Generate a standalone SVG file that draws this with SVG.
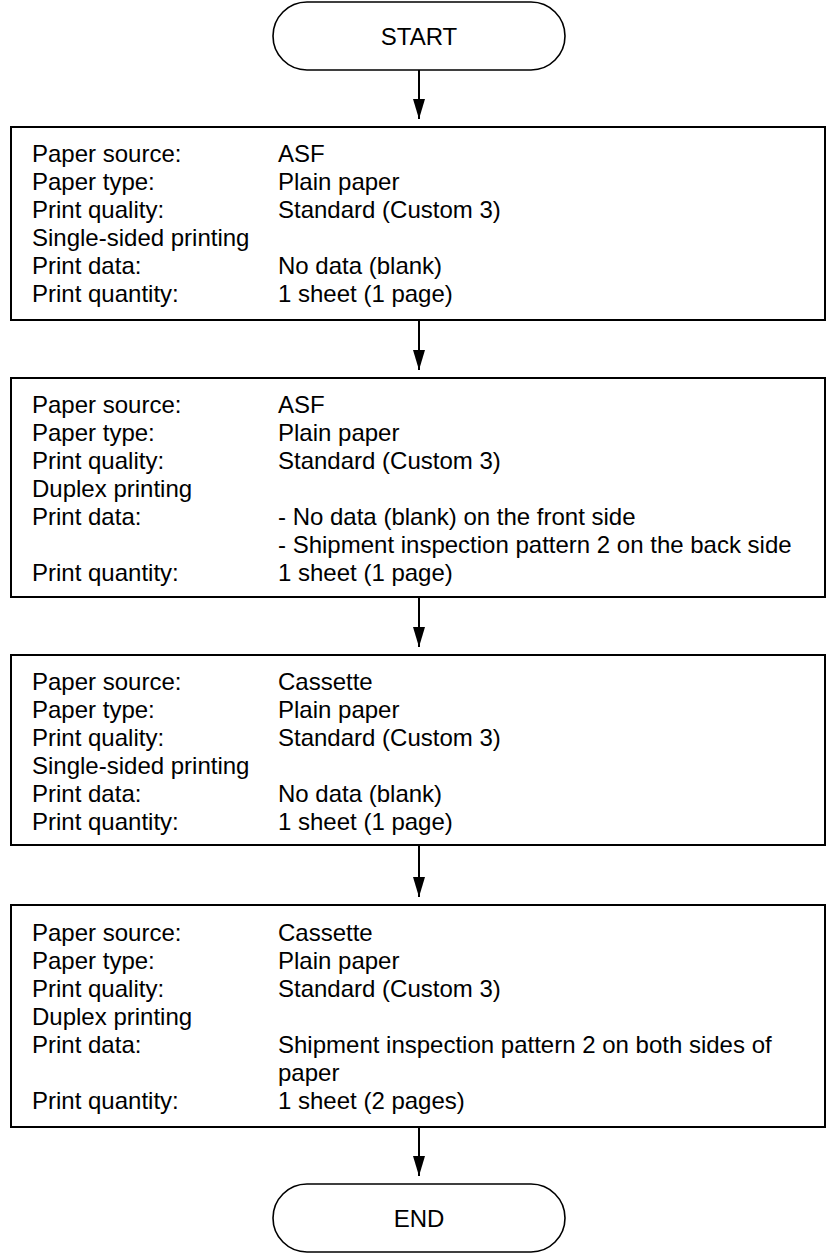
<svg xmlns="http://www.w3.org/2000/svg" width="827" height="1258" viewBox="0 0 827 1258">
<style>
  text { font-family: "Liberation Sans", Arial, sans-serif; font-size: 24px; fill: #000; }
  .box { fill: #fff; stroke: #000; stroke-width: 2; }
  .term { fill: #fff; stroke: #000; stroke-width: 1.6; }
  .conn { stroke: #000; stroke-width: 2; fill: none; }
  .mid { text-anchor: middle; }
</style>
<defs>
  <marker id="arr" viewBox="0 0 20 12" refX="20" refY="6" markerWidth="20" markerHeight="12" markerUnits="userSpaceOnUse" orient="auto">
    <path d="M0,0 L20,6 L0,12 Z" fill="#000"/>
  </marker>
</defs>
<g id="connectors">
  <line class="conn" x1="419" y1="70" x2="419" y2="119" marker-end="url(#arr)"/>
  <line class="conn" x1="419" y1="320" x2="419" y2="370" marker-end="url(#arr)"/>
  <line class="conn" x1="419" y1="597" x2="419" y2="647" marker-end="url(#arr)"/>
  <line class="conn" x1="419" y1="845" x2="419" y2="897" marker-end="url(#arr)"/>
  <line class="conn" x1="419" y1="1127" x2="419" y2="1176" marker-end="url(#arr)"/>
</g>
<g id="start">
  <rect class="term" x="273" y="2" width="292" height="68" rx="34" ry="34"/>
  <text class="mid" x="419" y="45">START</text>
</g>
<g id="step1">
  <rect class="box" x="11" y="127" width="814" height="193"/>
  <text x="32" y="162">Paper source:</text><text x="278" y="162">ASF</text>
  <text x="32" y="190">Paper type:</text><text x="278" y="190">Plain paper</text>
  <text x="32" y="218">Print quality:</text><text x="278" y="218">Standard (Custom 3)</text>
  <text x="32" y="246">Single-sided printing</text>
  <text x="32" y="274">Print data:</text><text x="278" y="274">No data (blank)</text>
  <text x="32" y="302">Print quantity:</text><text x="278" y="302">1 sheet (1 page)</text>
</g>
<g id="step2">
  <rect class="box" x="11" y="378" width="814" height="219"/>
  <text x="32" y="413">Paper source:</text><text x="278" y="413">ASF</text>
  <text x="32" y="441">Paper type:</text><text x="278" y="441">Plain paper</text>
  <text x="32" y="469">Print quality:</text><text x="278" y="469">Standard (Custom 3)</text>
  <text x="32" y="497">Duplex printing</text>
  <text x="32" y="525">Print data:</text><text x="278" y="525">- No data (blank) on the front side</text>
  <text x="278" y="553">- Shipment inspection pattern 2 on the back side</text>
  <text x="32" y="581">Print quantity:</text><text x="278" y="581">1 sheet (1 page)</text>
</g>
<g id="step3">
  <rect class="box" x="11" y="655" width="814" height="190"/>
  <text x="32" y="690">Paper source:</text><text x="278" y="690">Cassette</text>
  <text x="32" y="718">Paper type:</text><text x="278" y="718">Plain paper</text>
  <text x="32" y="746">Print quality:</text><text x="278" y="746">Standard (Custom 3)</text>
  <text x="32" y="774">Single-sided printing</text>
  <text x="32" y="802">Print data:</text><text x="278" y="802">No data (blank)</text>
  <text x="32" y="830">Print quantity:</text><text x="278" y="830">1 sheet (1 page)</text>
</g>
<g id="step4">
  <rect class="box" x="11" y="905" width="814" height="222"/>
  <text x="32" y="941">Paper source:</text><text x="278" y="941">Cassette</text>
  <text x="32" y="969">Paper type:</text><text x="278" y="969">Plain paper</text>
  <text x="32" y="997">Print quality:</text><text x="278" y="997">Standard (Custom 3)</text>
  <text x="32" y="1025">Duplex printing</text>
  <text x="32" y="1053">Print data:</text><text x="278" y="1053">Shipment inspection pattern 2 on both sides of</text>
  <text x="278" y="1081">paper</text>
  <text x="32" y="1109">Print quantity:</text><text x="278" y="1109">1 sheet (2 pages)</text>
</g>
<g id="end">
  <rect class="term" x="273" y="1184" width="292" height="68" rx="34" ry="34"/>
  <text class="mid" x="419" y="1227">END</text>
</g>
</svg>
